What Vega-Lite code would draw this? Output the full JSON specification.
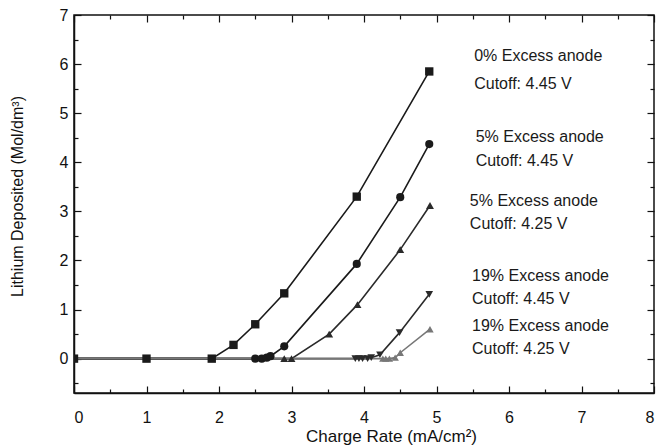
{
  "$schema": "https://vega.github.io/schema/vega-lite/v6.json",
  "width": 580,
  "height": 378,
  "autosize": "none",
  "padding": {"left": 74, "top": 15, "right": 11, "bottom": 55},
  "background": "white",
  "config": {
    "font": "Liberation Sans",
    "view": {"stroke": "#111", "strokeWidth": 1.5},
    "axis": {
      "grid": false,
      "domainColor": "#111",
      "domainWidth": 1.5,
      "tickColor": "#111",
      "tickWidth": 1.2,
      "labelColor": "#111",
      "titleColor": "#111",
      "labelFontSize": 16,
      "titleFontSize": 16,
      "titleFontWeight": "normal"
    }
  },
  "datasets": {
    "curves": [
      {"s": "A", "x": 0, "y": 0}, {"s": "A", "x": 1, "y": 0}, {"s": "A", "x": 1.9, "y": 0},
      {"s": "A", "x": 2.2, "y": 0.28}, {"s": "A", "x": 2.5, "y": 0.7}, {"s": "A", "x": 2.9, "y": 1.33},
      {"s": "A", "x": 3.9, "y": 3.3}, {"s": "A", "x": 4.9, "y": 5.85},
      {"s": "B", "x": 0, "y": 0}, {"s": "B", "x": 2.5, "y": 0}, {"s": "B", "x": 2.59, "y": 0},
      {"s": "B", "x": 2.66, "y": 0.02}, {"s": "B", "x": 2.71, "y": 0.05}, {"s": "B", "x": 2.9, "y": 0.25},
      {"s": "B", "x": 3.9, "y": 1.93}, {"s": "B", "x": 4.5, "y": 3.29}, {"s": "B", "x": 4.9, "y": 4.37},
      {"s": "C", "x": 0, "y": 0}, {"s": "C", "x": 2.9, "y": 0}, {"s": "C", "x": 3.0, "y": 0},
      {"s": "C", "x": 3.52, "y": 0.5}, {"s": "C", "x": 3.91, "y": 1.1}, {"s": "C", "x": 4.5, "y": 2.22},
      {"s": "C", "x": 4.91, "y": 3.12},
      {"s": "D", "x": 0, "y": 0}, {"s": "D", "x": 3.88, "y": 0}, {"s": "D", "x": 3.93, "y": 0},
      {"s": "D", "x": 3.98, "y": 0}, {"s": "D", "x": 4.05, "y": 0}, {"s": "D", "x": 4.1, "y": 0.02},
      {"s": "D", "x": 4.22, "y": 0.08}, {"s": "D", "x": 4.49, "y": 0.53}, {"s": "D", "x": 4.9, "y": 1.31},
      {"s": "E", "x": 0, "y": 0}, {"s": "E", "x": 4.26, "y": 0}, {"s": "E", "x": 4.3, "y": 0},
      {"s": "E", "x": 4.35, "y": 0}, {"s": "E", "x": 4.43, "y": 0.02}, {"s": "E", "x": 4.5, "y": 0.12},
      {"s": "E", "x": 4.91, "y": 0.6}
    ],
    "notes": [
      {"x": 5.52, "y": 6.16, "text": "0% Excess anode"},
      {"x": 5.52, "y": 5.59, "text": "Cutoff: 4.45 V"},
      {"x": 5.54, "y": 4.51, "text": "5% Excess anode"},
      {"x": 5.54, "y": 4.02, "text": "Cutoff: 4.45 V"},
      {"x": 5.46, "y": 3.22, "text": "5% Excess anode"},
      {"x": 5.46, "y": 2.75, "text": "Cutoff: 4.25 V"},
      {"x": 5.49, "y": 1.69, "text": "19% Excess anode"},
      {"x": 5.49, "y": 1.22, "text": "Cutoff: 4.45 V"},
      {"x": 5.49, "y": 0.67, "text": "19% Excess anode"},
      {"x": 5.49, "y": 0.2, "text": "Cutoff: 4.25 V"}
    ]
  },
  "layer": [
    {
      "data": {"name": "curves"},
      "mark": {"type": "line", "strokeWidth": 1.6, "clip": true},
      "encoding": {
        "x": {
          "field": "x", "type": "quantitative",
          "scale": {"domain": [0, 8], "nice": false},
          "axis": {
            "orient": "bottom",
            "title": "Charge Rate (mA/cm²)",
            "values": [0, 0.5, 1, 1.5, 2, 2.5, 3, 3.5, 4, 4.5, 5, 5.5, 6, 6.5, 7, 7.5, 8],
            "labelExpr": "datum.value % 1 === 0 ? format(datum.value, 'd') : ''",
            "tickSize": {"condition": {"test": "datum.value % 1 === 0", "value": -7}, "value": -4},
            "labelPadding": 23,
            "titleX": 317,
            "titleY": 43,
            "titleBaseline": "middle",
            "titleFontSize": 17
          }
        },
        "y": {
          "field": "y", "type": "quantitative",
          "scale": {"domain": [-0.7, 7], "nice": false, "zero": false},
          "axis": {
            "orient": "left",
            "title": "Lithium Deposited (Mol/dm³)",
            "values": [-0.5, 0, 0.5, 1, 1.5, 2, 2.5, 3, 3.5, 4, 4.5, 5, 5.5, 6, 6.5, 7],
            "labelExpr": "datum.value % 1 === 0 ? format(datum.value, 'd') : ''",
            "tickSize": {"condition": {"test": "datum.value % 1 === 0", "value": -7}, "value": -4},
            "labelPadding": 13,
            "titleX": -57,
            "titleY": 181,
            "titleBaseline": "middle"
          }
        },
        "detail": {"field": "s"},
        "color": {
          "field": "s", "type": "nominal", "legend": null,
          "scale": {"domain": ["A", "B", "C", "D", "E"], "range": ["#1a1a1a", "#1a1a1a", "#2a2a2a", "#2a2a2a", "#777777"]}
        }
      }
    },
    {
      "data": {"name": "curves"},
      "transform": [{"filter": "datum.x > 0 || datum.s === 'A'"}],
      "mark": {"type": "point", "filled": true, "opacity": 1, "clip": true},
      "encoding": {
        "x": {"field": "x", "type": "quantitative", "axis": null},
        "y": {"field": "y", "type": "quantitative", "axis": null},
        "shape": {
          "field": "s", "type": "nominal", "legend": null,
          "scale": {"domain": ["A", "B", "C", "D", "E"], "range": ["square", "circle", "triangle-up", "triangle-down", "triangle-up"]}
        },
        "size": {
          "field": "s", "type": "nominal", "legend": null,
          "scale": {"domain": ["A", "B", "C", "D", "E"], "range": [70, 55, 45, 50, 45]}
        },
        "color": {
          "field": "s", "type": "nominal", "legend": null,
          "scale": {"domain": ["A", "B", "C", "D", "E"], "range": ["#333333", "#1a1a1a", "#888888", "#444444", "#333333"]}
        }
      }
    },
    {
      "data": {"name": "notes"},
      "mark": {"type": "text", "align": "left", "baseline": "middle", "fontSize": 16, "color": "#1a1a1a"},
      "encoding": {
        "x": {
          "field": "x", "type": "quantitative",
          "axis": {
            "orient": "top", "title": null, "labels": false, "domain": false,
            "values": [0, 0.5, 1, 1.5, 2, 2.5, 3, 3.5, 4, 4.5, 5, 5.5, 6, 6.5, 7, 7.5, 8],
            "tickSize": {"condition": {"test": "datum.value % 1 === 0", "value": -7}, "value": -4}
          }
        },
        "y": {
          "field": "y", "type": "quantitative",
          "axis": {
            "orient": "right", "title": null, "labels": false, "domain": false,
            "values": [-0.5, 0, 0.5, 1, 1.5, 2, 2.5, 3, 3.5, 4, 4.5, 5, 5.5, 6, 6.5, 7],
            "tickSize": {"condition": {"test": "datum.value % 1 === 0", "value": -7}, "value": -4}
          }
        },
        "text": {"field": "text"}
      }
    }
  ]
}
